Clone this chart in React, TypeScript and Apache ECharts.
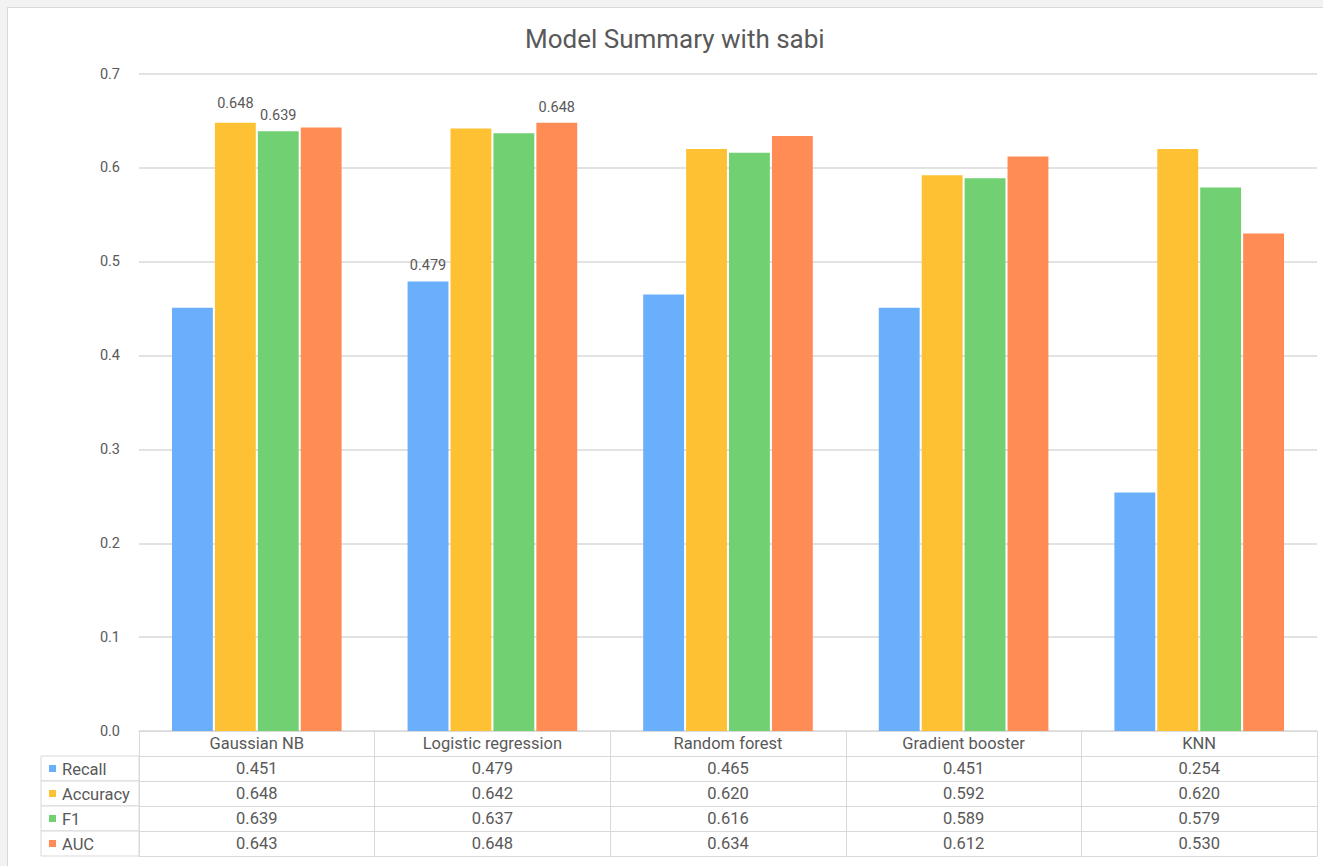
import React, { useEffect, useRef } from "react";
import * as echarts from "echarts";

const categories = ["Gaussian NB", "Logistic regression", "Random forest", "Gradient booster", "KNN"];
const seriesNames = ["Recall", "Accuracy", "F1", "AUC"];
const recall = [0.451, 0.479, 0.465, 0.451, 0.254];
const accuracy = [0.648, 0.642, 0.62, 0.592, 0.62];
const f1 = [0.639, 0.637, 0.616, 0.589, 0.579];
const auc = [0.643, 0.648, 0.634, 0.612, 0.53];
const seriesValues = [recall, accuracy, f1, auc];
const colors = ["#6aaffb", "#fdc133", "#71d072", "#ff8c55"];
const yTicks = { min: 0, max: 0.7, interval: 0.1 };
// [seriesIndex, categoryIndex] of the bars that carry a value label
const labeledPoints: [number, number][] = [
  [1, 0],
  [2, 0],
  [0, 1],
  [3, 1],
];

const TEXT = "#595959";
const LINE = "#d9d9d9";
const FONT = "Roboto";
const TABLE_FS = 16.5;

export default function App() {
  const ref = useRef<HTMLDivElement>(null);

  useEffect(() => {
    if (!ref.current) return;
    const chart = echarts.init(ref.current, undefined, { renderer: "svg" });
    const H = 858;
    const gridLeft = 131;
    const gridRight = 6;
    const gridTop = 66;
    const gridBottom = 135;
    const rowH = 25;
    const axisY = H - gridBottom;
    const legendLeft = 33;

    const xAxes: any[] = [
      {
        type: "category",
        data: categories,
        position: "bottom",
        axisLine: { show: true, lineStyle: { color: LINE } },
        axisTick: { show: true, length: rowH, interval: 0, lineStyle: { color: LINE } },
        axisLabel: { color: TEXT, fontSize: TABLE_FS, margin: 4, interval: 0, fontFamily: FONT },
      },
    ];
    seriesValues.forEach((vals, k) => {
      xAxes.push({
        type: "category",
        data: categories,
        position: "bottom",
        offset: rowH * (k + 1),
        axisLine: { show: true, lineStyle: { color: LINE } },
        axisTick: { show: true, length: rowH, interval: 0, lineStyle: { color: LINE } },
        axisLabel: {
          color: TEXT,
          fontSize: TABLE_FS,
          margin: 4,
          interval: 0,
          fontFamily: FONT,
          formatter: (_v: string, idx: number) => vals[idx].toFixed(3),
        },
      });
    });
    xAxes.push({
      type: "category",
      data: categories,
      position: "bottom",
      offset: rowH * (seriesValues.length + 1),
      axisLine: { show: true, lineStyle: { color: LINE } },
      axisTick: { show: false },
      axisLabel: { show: false },
    });

    const graphics: any[] = [];
    seriesNames.forEach((name, i) => {
      const y = axisY + rowH * (i + 1);
      graphics.push({
        type: "rect",
        shape: { x: legendLeft, y, width: gridLeft - legendLeft, height: rowH },
        style: { fill: "#fff", stroke: LINE, lineWidth: 1 },
      });
      graphics.push({
        type: "rect",
        shape: { x: legendLeft + 8, y: y + rowH / 2 - 3.5, width: 7, height: 7 },
        style: { fill: colors[i] },
      });
      graphics.push({
        type: "text",
        x: legendLeft + 21,
        y: y + rowH / 2 + 1,
        style: {
          text: name,
          fill: TEXT,
          font: `${TABLE_FS}px ${FONT}`,
          textVerticalAlign: "middle",
          verticalAlign: "middle",
        },
      });
    });

    const series = seriesNames.map((name, s) => ({
      name,
      type: "bar",
      xAxisIndex: 0,
      barCategoryGap: "28%",
      barGap: "5%",
      itemStyle: { color: colors[s] },
      data: seriesValues[s].map((v, c) => {
        const lab = labeledPoints.some(([ls, lc]) => ls === s && lc === c);
        if (!lab) return v;
        return {
          value: v,
          label: {
            show: true,
            position: "top",
            distance: 8,
            offset: s === 1 && c === 0 ? [0, -4] : [0, 0],
            color: TEXT,
            fontSize: 14.5,
            fontFamily: FONT,
            formatter: (p: any) => Number(p.value).toFixed(3),
          },
        };
      }),
    }));

    chart.setOption({
      animation: false,
      backgroundColor: "#ffffff",
      textStyle: { fontFamily: FONT, color: TEXT },
      title: {
        text: "Model Summary with sabi",
        left: 512,
        top: 13,
        textStyle: { color: TEXT, fontSize: 26, fontWeight: "normal", fontFamily: FONT },
      },
      grid: { left: gridLeft, right: gridRight, top: gridTop, bottom: gridBottom, containLabel: false },
      xAxis: xAxes,
      yAxis: {
        type: "value",
        min: yTicks.min,
        max: yTicks.max,
        interval: yTicks.interval,
        axisLine: { show: false },
        axisTick: { show: false },
        splitLine: { lineStyle: { color: LINE, width: 1.5 } },
        axisLabel: {
          color: TEXT,
          fontSize: 14.5,
          margin: 19,
          fontFamily: FONT,
          formatter: (v: number) => v.toFixed(1),
        },
      },
      graphic: graphics,
      series,
    });
    return () => chart.dispose();
  }, []);

  return (
    <div
      style={{
        position: "absolute",
        left: 0,
        top: 0,
        width: 1323,
        height: 866,
        background: "#f2f2f2",
      }}
    >
      <div
        style={{
          position: "absolute",
          left: 7,
          top: 7,
          width: 1316,
          height: 859,
          borderLeft: "1px solid #d9d9d9",
          borderTop: "1px solid #d9d9d9",
          background: "#fff",
          boxSizing: "border-box",
        }}
      >
        <div ref={ref} style={{ width: 1315, height: 858 }} />
      </div>
    </div>
  );
}
